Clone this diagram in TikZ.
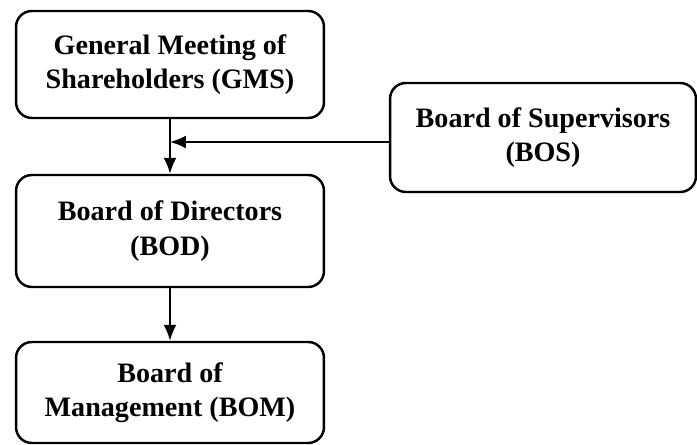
\documentclass[tikz,border=0pt]{standalone}
\usepackage{fontspec}
\setmainfont{Liberation Serif}
\usetikzlibrary{arrows.meta,positioning}
\tikzstyle{board} = [draw, line width=1.4pt, rounded corners=9pt, align=center,
    minimum width=6.16cm, font=\bfseries\fontsize{16}{19.5}\selectfont]
\tikzstyle{link} = [line width=1.1pt, -{Latex[length=3.2mm,width=2.6mm]}]

\begin{document}
\begin{tikzpicture}[x=0.02cm, y=-0.02cm]
    \useasboundingbox (0,0) rectangle (697,445);

    \node [board, minimum height=2.14cm] (gms) at (170,64.5) {General Meeting of\\Shareholders (GMS)};
    \node [board, minimum height=2.24cm] (bod) at (170,231) {Board of Directors\\(BOD)};
    \node [board, minimum height=2.02cm] (bom) at (170,392.5) {Board of\\Management (BOM)};
    \node [board, minimum height=2.18cm, minimum width=6.12cm] (bos) at (543,137.5) {Board of Supervisors\\(BOS)};

    \draw [link] (gms) -- (bod);
    \draw [link] (bod) -- (bom);
    % supervisors feed into the GMS->BOD line
    \coordinate (tap) at ([yshift=-0.09cm]bos.west);
    \coordinate (join) at (gms.south |- tap);
    \draw [link] (tap) -- (join);
\end{tikzpicture}
\end{document}
